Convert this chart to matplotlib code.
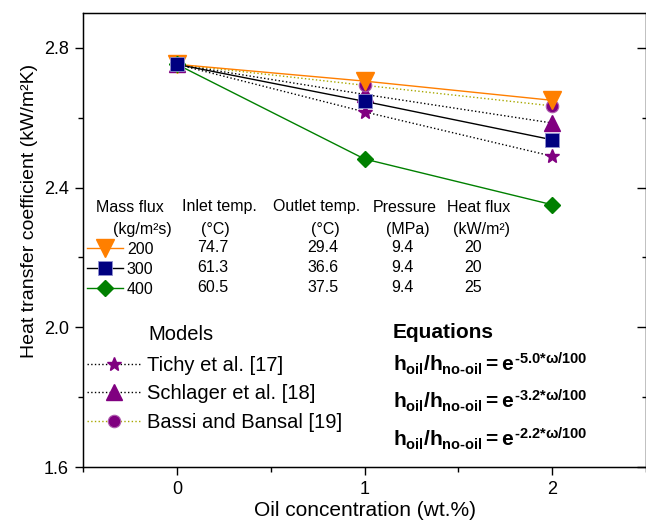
import matplotlib
matplotlib.use("Agg")
import matplotlib.pyplot as plt
from matplotlib.ticker import MultipleLocator

plt.rcParams["font.family"] = ["Liberation Sans", "DejaVu Sans"]
plt.rcParams["mathtext.fontset"] = "custom"
plt.rcParams["mathtext.rm"] = "Liberation Sans:bold"
plt.rcParams["mathtext.it"] = "Liberation Sans:bold"
plt.rcParams["mathtext.bf"] = "Liberation Sans:bold"
plt.rcParams["mathtext.sf"] = "Liberation Sans:bold"

# data
oil = [0, 1, 2]
h_200 = [2.753, 2.705, 2.650]
h_300 = [2.753, 2.647, 2.537]
h_400 = [2.753, 2.482, 2.351]
h_tichy = [2.753, 2.617, 2.490]
h_schlager = [2.753, 2.667, 2.585]
h_bassi = [2.753, 2.693, 2.634]

mass_flux = ["200", "300", "400"]
inlet_temp = ["74.7", "61.3", "60.5"]
outlet_temp = ["29.4", "36.6", "37.5"]
pressure = ["9.4", "9.4", "9.4"]
heat_flux = ["20", "20", "25"]

model_names = ["Tichy et al. [17]", "Schlager et al. [18]", "Bassi and Bansal [19]"]
exponents = ["-5.0", "-3.2", "-2.2"]

orange = "#FF7F00"
navy = "#000080"
green = "#008000"
purple = "#800080"
olive = "#A8A800"

W, H = 646, 522
fig = plt.figure(figsize=(W / 100, H / 100), dpi=100)
ax = fig.add_axes([83 / W, (H - 467) / H, (W - 83) / W, (467 - 13) / H])


def fx(x):
    return x / W


def fy(y):
    return 1 - y / H


# models (drawn first, data markers sit on top)
l_tichy, = ax.plot(oil, h_tichy, ls=":", color="k", lw=1, marker="*", ms=10.5,
                   mfc=purple, mec=purple, zorder=3)
l_schl, = ax.plot(oil, h_schlager, ls=":", color="k", lw=1, marker="^", ms=12,
                  mfc=purple, mec=purple, zorder=3)
l_bassi, = ax.plot(oil, h_bassi, ls=":", color=olive, lw=1, marker="o", ms=9,
                   mfc=purple, mec="#B060B0", mew=0.8, zorder=3)

l200, = ax.plot(oil, h_200, "-", color=orange, lw=1, marker="v", ms=12.5,
                mfc=orange, mec=orange, zorder=4)
l300, = ax.plot(oil, h_300, "-", color="k", lw=1, marker="s", ms=9.5,
                mfc=navy, mec="#9090D0", mew=0.6, zorder=5)
l400, = ax.plot(oil, h_400, "-", color=green, lw=1, marker="D", ms=8.5,
                mfc=green, mec=green, zorder=4)

ax.set_xlim(-0.5, 2.5)
ax.set_ylim(1.6, 2.9)
ax.set_xticks([0, 1, 2])
ax.set_yticks([1.6, 2.0, 2.4, 2.8])
ax.set_yticklabels(["1.6", "2.0", "2.4", "2.8"])
ax.xaxis.set_minor_locator(MultipleLocator(0.5))
ax.yaxis.set_minor_locator(MultipleLocator(0.2))
ax.tick_params(which="both", direction="out", labelsize=13, width=1, pad=4)
ax.tick_params(which="major", length=6)
ax.tick_params(which="minor", length=3.5)
for s in ax.spines.values():
    s.set_linewidth(1)

# inward ticks on the right side
ax2 = ax.twinx()
ax2.set_ylim(1.6, 2.9)
ax2.set_yticks([1.6, 2.0, 2.4, 2.8])
ax2.yaxis.set_minor_locator(MultipleLocator(0.2))
ax2.tick_params(which="both", direction="in", labelright=False, width=1)
ax2.tick_params(which="major", length=6.5)
ax2.tick_params(which="minor", length=3)

ax.set_xlabel("Oil concentration (wt.%)", fontsize=15, labelpad=2)
ax.set_ylabel("Heat transfer coefficient (kW/m\u00b2K)", fontsize=14, labelpad=4)
ax.yaxis.set_label_coords(-0.08, 0.564)

# operating condition table
leg1 = ax.legend([l200, l300, l400], mass_flux, loc="upper left",
                 bbox_to_anchor=(fx(87), fy(242)), bbox_transform=fig.transFigure,
                 frameon=False, fontsize=11.5, handlelength=2.25, handletextpad=0.25,
                 borderpad=0, borderaxespad=0, labelspacing=0.3)
ax.add_artist(leg1)

tfs = 11.5
fig.text(fx(96), fy(207), "Mass flux", fontsize=tfs, va="center", ha="left")
fig.text(fx(182), fy(207), "Inlet temp.", fontsize=tfs, va="center", ha="left")
fig.text(fx(273), fy(207), "Outlet temp.", fontsize=tfs, va="center", ha="left")
fig.text(fx(373), fy(207), "Pressure", fontsize=tfs, va="center", ha="left")
fig.text(fx(447), fy(207), "Heat flux", fontsize=tfs, va="center", ha="left")
fig.text(fx(113), fy(230), "(kg/m\u00b2s)", fontsize=tfs, va="center", ha="left")
fig.text(fx(215), fy(230), "(\u00b0C)", fontsize=tfs, va="center", ha="center")
fig.text(fx(325), fy(230), "(\u00b0C)", fontsize=tfs, va="center", ha="center")
fig.text(fx(408), fy(230), "(MPa)", fontsize=tfs, va="center", ha="center")
fig.text(fx(482), fy(230), "(kW/m\u00b2)", fontsize=tfs, va="center", ha="center")

rows_y = [247.5, 268, 288]
for i, ry in enumerate(rows_y):
    fig.text(fx(213), fy(ry), inlet_temp[i], fontsize=tfs, va="center", ha="center")
    fig.text(fx(323), fy(ry), outlet_temp[i], fontsize=tfs, va="center", ha="center")
    fig.text(fx(402), fy(ry), pressure[i], fontsize=tfs, va="center", ha="center")
    fig.text(fx(473), fy(ry), heat_flux[i], fontsize=tfs, va="center", ha="center")

# models legend
leg2 = ax.legend([l_tichy, l_schl, l_bassi], model_names, loc="upper left",
                 bbox_to_anchor=(fx(87), fy(356)), bbox_transform=fig.transFigure,
                 frameon=False, fontsize=14.5, handlelength=2.7, handletextpad=0.3,
                 borderpad=0, borderaxespad=0, labelspacing=0.47)
fig.text(fx(148), fy(335), "Models", fontsize=14.5, va="center", ha="left")

# equations
fig.text(fx(393), fy(332), "Equations", fontsize=15, fontweight="bold",
         va="center", ha="left")
eq_base = [371, 408, 446]
for e, by in zip(exponents, eq_base):
    s = (r"$h_{\text{oil}}/h_{\text{no-oil}} = e^{\text{" + e + r"*}\omega\text{/100}}$")
    fig.text(fx(393), fy(by), s, fontsize=15, va="baseline", ha="left")

fig.savefig("out.png", dpi=100)
